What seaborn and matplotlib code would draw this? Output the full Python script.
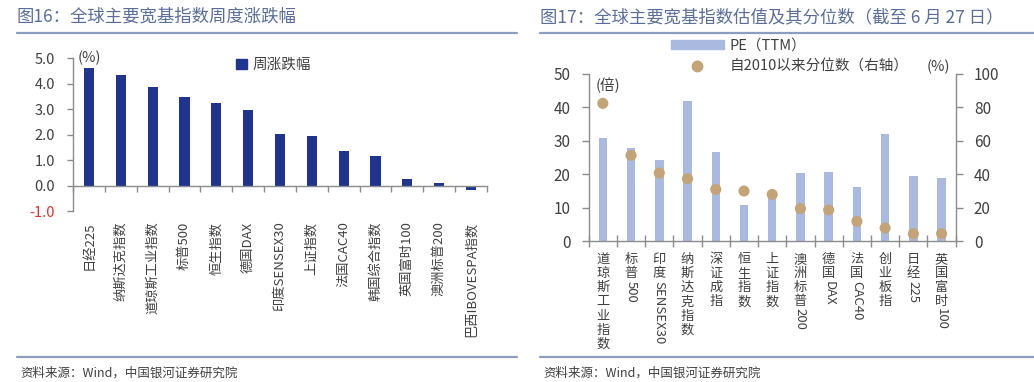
import numpy as np
import matplotlib
matplotlib.use("Agg")
import matplotlib.pyplot as plt
import seaborn as sns
from matplotlib.patches import Patch
from matplotlib.lines import Line2D

# ---------------- data ----------------
left_cats = ['日经225', '纳斯达克指数', '道琼斯工业指数', '标普500', '恒生指数', '德国DAX',
             '印度SENSEX30', '上证指数', '法国CAC40', '韩国综合指数', '英国富时100',
             '澳洲标普200', '巴西IBOVESPA指数']
weekly_change = [4.60, 4.32, 3.86, 3.47, 3.25, 2.96, 2.02, 1.93, 1.36, 1.14, 0.27, 0.10, -0.18]
left_yticks = [-1.0, 0.0, 1.0, 2.0, 3.0, 4.0, 5.0]

right_cats = ['道琼斯工业指数', '标普500', '印度SENSEX30', '纳斯达克指数', '深证成指', '恒生指数',
              '上证指数', '澳洲标普200', '德国DAX', '法国CAC40', '创业板指', '日经225', '英国富时100']
pe_ttm = [30.7, 27.7, 24.2, 41.9, 26.6, 10.9, 13.6, 20.3, 20.7, 16.1, 32.0, 19.6, 18.9]
pe_pct = [82.4, 51.3, 40.7, 37.3, 30.9, 29.9, 27.9, 19.4, 18.6, 11.8, 7.8, 4.4, 4.4]
right_yticks_l = [0, 10, 20, 30, 40, 50]
right_yticks_r = [0, 20, 40, 60, 80, 100]

# ---------------- style ----------------
sns.set_style("white")
plt.rcParams['font.family'] = ['Noto Sans CJK SC', 'DejaVu Sans']
plt.rcParams['axes.unicode_minus'] = False

W, H = 1034, 382
fig = plt.figure(figsize=(W / 100, H / 100), dpi=100)

TITLE_C = '#5a6e9c'
RULE_C = '#8d9dc0'
AX_C = '#8c8c8c'
TXT_C = '#404040'
NAVY = '#1f3590'
LIGHT = '#a9b9df'
TAN = '#c4a477'

def px(x0, y0, x1, y1):
    return [x0 / W, 1 - y1 / H, (x1 - x0) / W, (y1 - y0) / H]

# titles and rules
fig.text(17 / W, 1 - 17 / H, '图16：全球主要宽基指数周度涨跌幅', color=TITLE_C, fontsize=12.5, va='center')
fig.text(540 / W, 1 - 17 / H, '图17：全球主要宽基指数估值及其分位数（截至 6 月 27 日）', color=TITLE_C, fontsize=12.5, va='center')
for xa, xb in [(17, 517), (540, 1034)]:
    fig.add_artist(Line2D([xa / W, xb / W], [1 - 32.5 / H] * 2, color=RULE_C, lw=1.6))
    fig.add_artist(Line2D([xa / W, xb / W], [1 - 357 / H] * 2, color=RULE_C, lw=1.6))
fig.text(20 / W, 1 - 373 / H, '资料来源：Wind，中国银河证券研究院', color=TXT_C, fontsize=9, va='center')
fig.text(543 / W, 1 - 373 / H, '资料来源：Wind，中国银河证券研究院', color=TXT_C, fontsize=9, va='center')

# ---------------- left chart ----------------
ax1 = fig.add_axes(px(73, 58, 487, 211))
sns.barplot(x=left_cats, y=weekly_change, ax=ax1, color=NAVY, saturation=1,
            width=0.32, linewidth=0, order=left_cats)
ax1.set_xlim(-0.5, 12.5)
ax1.set_ylim(-1, 5)
ax1.set_xlabel('')
ax1.set_ylabel('')
for s in ['top', 'right']:
    ax1.spines[s].set_visible(False)
ax1.spines['bottom'].set_position(('data', 0))
for s in ['left', 'bottom']:
    ax1.spines[s].set_color(AX_C)
    ax1.spines[s].set_linewidth(1)
ax1.set_yticks(left_yticks)
ax1.set_yticklabels([f'{v:.1f}' for v in left_yticks])
ax1.tick_params(axis='y', direction='out', length=4, width=1, color=AX_C, pad=9,
                labelsize=10.5, labelcolor=TXT_C, left=True)
ax1.get_yticklabels()[0].set_color('#e0342c')
ax1.set_xticks(range(len(left_cats)))
ax1.set_xticklabels(left_cats, rotation=90, va='top', ha='center')
ax1.set_xticks(np.arange(-0.5, len(left_cats), 1.0), minor=True)
ax1.tick_params(axis='x', which='major', length=0, pad=26, labelsize=9.5, labelcolor=TXT_C)
ax1.tick_params(axis='x', which='minor', direction='out', length=4, width=1, color=AX_C, bottom=True)
ax1.text(0.012, 1.0, '(%)', transform=ax1.transAxes, fontsize=10.5, color=TXT_C, va='center', ha='left')
ax1.legend(handles=[Patch(color=NAVY, label='周涨跌幅')], loc='center left',
           bbox_to_anchor=(236 / W, 1 - 65 / H), bbox_transform=fig.transFigure,
           frameon=False, handlelength=0.75, handleheight=0.75, handletextpad=0.4,
           borderpad=0, borderaxespad=0, fontsize=10.5, labelcolor=TXT_C)

# ---------------- right chart ----------------
ax2 = fig.add_axes(px(588.7, 74, 955.7, 241))
sns.barplot(x=right_cats, y=pe_ttm, ax=ax2, color=LIGHT, saturation=1,
            width=0.30, linewidth=0, order=right_cats)
ax3 = ax2.twinx()
sns.scatterplot(x=right_cats, y=pe_pct, ax=ax3, color=TAN, s=64, edgecolor='none', zorder=5)
ax2.set_xlim(-0.5, 12.5)
ax2.set_ylim(0, 50)
ax3.set_ylim(0, 100)
for a in (ax2, ax3):
    a.set_xlabel('')
    a.set_ylabel('')
    a.spines['top'].set_visible(False)
    for s in ['left', 'right', 'bottom']:
        a.spines[s].set_color(AX_C)
        a.spines[s].set_linewidth(1)
ax2.spines['right'].set_visible(False)
ax3.spines['left'].set_visible(False)
ax3.spines['bottom'].set_visible(False)
ax2.set_yticks(right_yticks_l)
ax2.tick_params(axis='y', direction='out', length=5, width=1, color=AX_C, pad=8,
                labelsize=11, labelcolor=TXT_C, left=True)
ax3.set_yticks(right_yticks_r)
ax3.tick_params(axis='y', direction='out', length=5, width=1, color=AX_C, pad=8,
                labelsize=11, labelcolor=TXT_C, right=True)
ax2.set_xticks(range(len(right_cats)))
ax2.set_xticklabels([''] * len(right_cats))
ax2.set_xticks(np.arange(-0.5, len(right_cats), 1.0), minor=True)
ax2.tick_params(axis='x', which='major', length=0)
ax2.tick_params(axis='x', which='minor', direction='inout', length=8, width=1, color=AX_C, bottom=True)

# vertical (stacked) category labels
FS = 9.5
LS = 1.12
LH = 9.7  # points per stacked character
for i, lab in enumerate(right_cats):
    k = 0
    while k < len(lab) and ord(lab[k]) > 127:
        k += 1
    cjk, latin = lab[:k], lab[k:]
    ax2.annotate('\n'.join(cjk), xy=(i, 0), xycoords=('data', 'axes fraction'),
                 xytext=(0, -8.5), textcoords='offset points', ha='center', va='top',
                 fontsize=FS, linespacing=LS, color=TXT_C)
    if latin:
        ax2.annotate(latin, xy=(i, 0), xycoords=('data', 'axes fraction'),
                     xytext=(0, -8.5 - LH * len(cjk) - 0.8), textcoords='offset points',
                     ha='center', va='top', rotation=270, fontsize=FS, color=TXT_C)

ax2.text(0.02, 0.93, '(倍)', transform=ax2.transAxes, fontsize=10.5, color=TXT_C, va='center', ha='left')
ax2.text(0.985, 1.04, '(%)', transform=ax2.transAxes, fontsize=10.5, color=TXT_C, va='center', ha='right')

handles = [Patch(color=LIGHT, label='PE（TTM）'),
           Line2D([], [], marker='o', linestyle='none', markersize=7.5, color=TAN, label='自2010以来分位数（右轴）')]
ax3.legend(handles=handles, loc='upper left', bbox_to_anchor=(671 / W, 1 - 39 / H),
           bbox_transform=fig.transFigure, frameon=False, handlelength=3.6, handleheight=0.6,
           handletextpad=0.4, borderpad=0, borderaxespad=0, labelspacing=0.45,
           fontsize=10.5, labelcolor=TXT_C)

fig.savefig('out.png', dpi=100)
